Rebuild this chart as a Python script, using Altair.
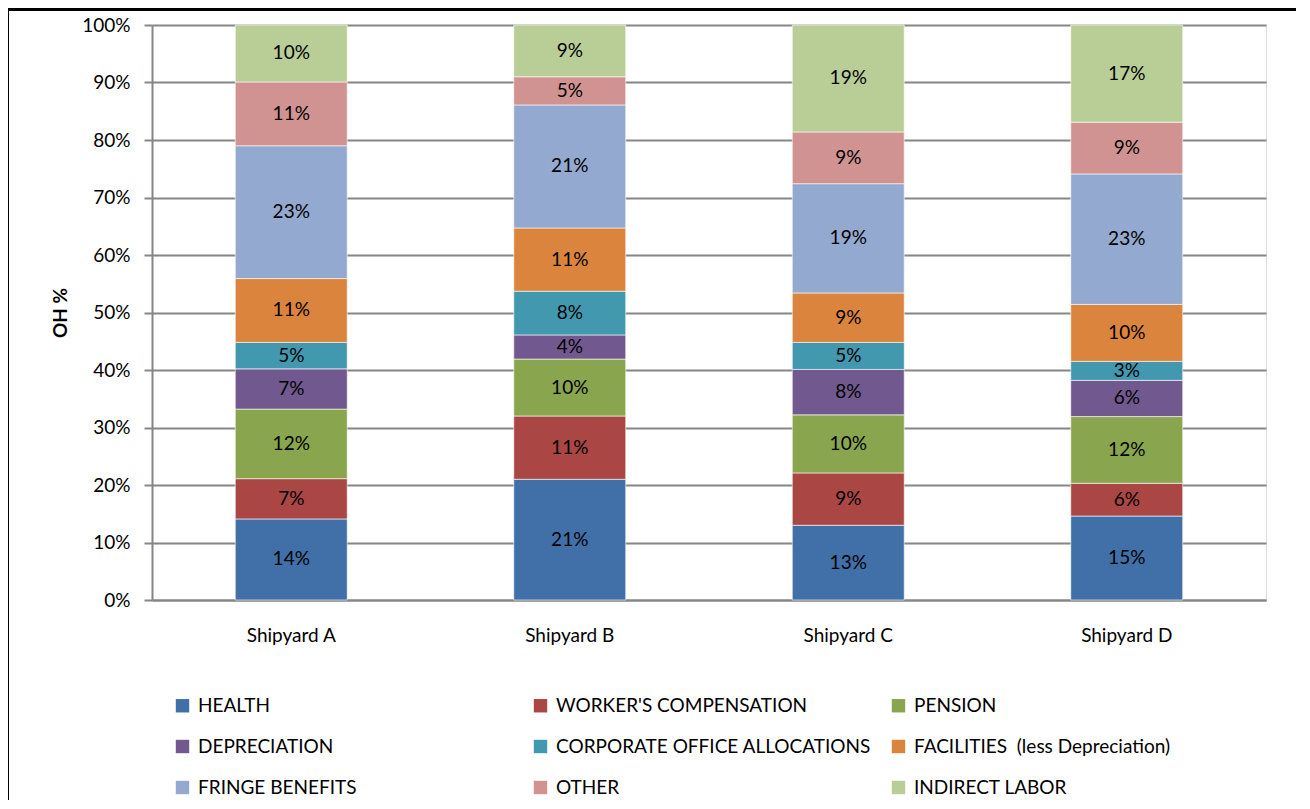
import altair as alt
import pandas as pd

shipyards = ["Shipyard A", "Shipyard B", "Shipyard C", "Shipyard D"]
categories = [
    "HEALTH",
    "WORKER'S COMPENSATION",
    "PENSION",
    "DEPRECIATION",
    "CORPORATE OFFICE ALLOCATIONS",
    "FACILITIES \u00a0(less Depreciation)",
    "FRINGE BENEFITS",
    "OTHER",
    "INDIRECT LABOR",
]
colors = ["#4170A8", "#AA4643", "#89A54E", "#71588F", "#4198AF",
          "#DB843D", "#93A9CF", "#D19392", "#B9CD96"]

# percent values per shipyard, bottom to top in category order
shipyard_a = [14.1, 7.0, 12.1, 7.0, 4.6, 11.1, 23.1, 11.1, 9.9]
shipyard_b = [21.0, 11.0, 9.9, 4.2, 7.6, 11.0, 21.4, 4.9, 9.0]
shipyard_c = [13.0, 9.1, 10.1, 7.9, 4.7, 8.6, 19.0, 9.0, 18.6]
shipyard_d = [14.6, 5.7, 11.6, 6.3, 3.3, 9.9, 22.7, 9.0, 16.9]

rows = []
for s, vals in zip(shipyards, [shipyard_a, shipyard_b, shipyard_c, shipyard_d]):
    for i, (c, v) in enumerate(zip(categories, vals)):
        rows.append({"shipyard": s, "category": c, "idx": i, "value": v / 100.0})
df = pd.DataFrame(rows)

FONT = "Lato"

base = alt.Chart(df).transform_stack(
    stack="value", as_=["y0", "y1"], groupby=["shipyard"],
    sort=[alt.SortField("idx", order="ascending")]
).transform_calculate(
    mid="(datum.y0 + datum.y1) / 2",
    label="format(datum.value * 100, '.0f') + '%'"
)

xenc = alt.X("shipyard:N", sort=shipyards, title=None,
             scale=alt.Scale(paddingInner=0.598, paddingOuter=0.299),
             axis=alt.Axis(labelAngle=0, labelFont=FONT, labelFontSize=19,
                           labelColor="#000000", labelPadding=26, ticks=False,
                           domainColor="#868686", domainWidth=2))

bars = base.mark_bar(stroke="#ffffff", strokeWidth=0.6).encode(
    x=xenc,
    y=alt.Y("y0:Q", scale=alt.Scale(domain=[0, 1], nice=False),
            axis=alt.Axis(format=".0%", values=[i / 10 for i in range(11)],
                          title="OH %", titleFont=FONT, titleFontSize=19,
                          titleFontWeight="bold", titleColor="#000000",
                          titleAngle=-90, titleX=-92, titleY=287.5,
                          titleAlign="center", titleBaseline="middle",
                          labelFont=FONT, labelFontSize=19, labelColor="#000000",
                          labelPadding=14, tickSize=8, tickColor="#868686",
                          tickWidth=2, domainColor="#868686", domainWidth=2,
                          grid=True, gridColor="#868686", gridWidth=2)),
    y2="y1:Q",
    color=alt.Color("category:N", sort=categories,
                    scale=alt.Scale(domain=categories, range=colors),
                    legend=alt.Legend(title=None, orient="none", legendX=21,
                                      legendY=671, columns=3, direction="horizontal",
                                      gridAlign="all", columnPadding=18,
                                      rowPadding=21, symbolType="square",
                                      symbolSize=180, symbolStrokeWidth=0,
                                      symbolOffset=0, labelOffset=6,
                                      labelFont=FONT, labelFontSize=19,
                                      labelColor="#000000", labelLimit=400)),
    order=alt.Order("idx:Q", sort="ascending"),
)

texts = base.mark_text(font=FONT, fontSize=19, color="#000000",
                       baseline="middle").encode(
    x=alt.X("shipyard:N", sort=shipyards),
    y=alt.Y("mid:Q"),
    text="label:N",
)

frame_top = alt.Chart(df).mark_rule(color="#000000", strokeWidth=1.5, clip=False).encode(
    x=alt.value(-144), x2=alt.value(1150), y=alt.value(-15.5))
frame_left = alt.Chart(df).mark_rule(color="#000000", strokeWidth=1.5, clip=False).encode(
    x=alt.value(-144), y=alt.value(-15.5), y2=alt.value(800))

chart = alt.layer(frame_top, frame_left, bars, texts).properties(
    width=1114, height=575,
    autosize=alt.AutoSizeParams(type="none"),
    padding={"left": 144, "top": 17, "right": 30, "bottom": 200},
).configure_view(stroke=None).configure(background="#ffffff")

chart.save("out.html", embed_options={"renderer": "svg", "actions": False})
